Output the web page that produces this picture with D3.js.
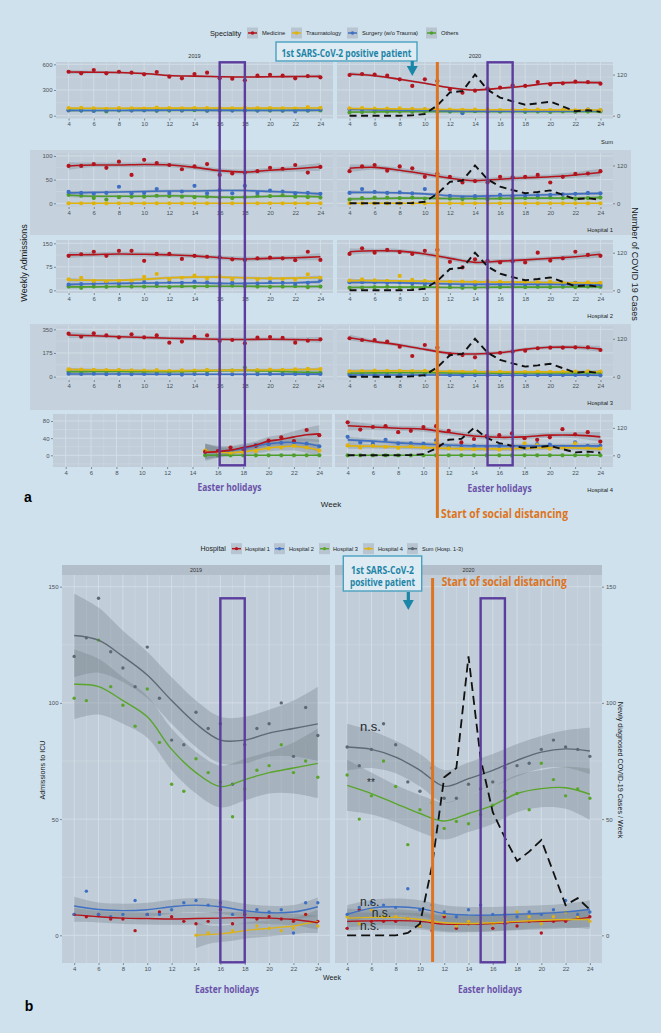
<!DOCTYPE html>
<html><head><meta charset="utf-8">
<script src="https://cdn.jsdelivr.net/npm/d3@7"></script>
<style>
body{margin:0;background:#cfe1ed;}
svg{display:block;font-family:"Liberation Sans",Arial,sans-serif;}
</style></head>
<body><svg id="c" width="661" height="1033"></svg>
<script>
// ---------------- DATA ----------------
const weeks = [4,5,6,7,8,9,10,11,12,13,14,15,16,17,18,19,20,21,22,23,24];
const fitWeeks = [4,6,8,10,12,14,16,18,20,22,24];
const fitWeeksH4_19 = [15,16,17,18,19,20,21,22,23,24];
const fitWeeksB_H4_19 = [14,15,16,17,18,19,20,21,22,23,24];
const xTicks = [4,6,8,10,12,14,16,18,20,22,24];
const covidCases = [0,0,0,0,0,1,5,30,68,72,120,76,53,42,32,36,41,27,13,16,11];
const specialities = ["Medicine","Traumatology","Surgery (w/o Trauma)","Others"];
const hospitalsB = ["Hospital 1","Hospital 2","Hospital 3","Hospital 4","Sum (Hosp. 1-3)"];
const rowNames = ["Sum","Hospital 1","Hospital 2","Hospital 3","Hospital 4"];
const years = ["2019","2020"];

// Panel a — Sum
const sum19Med = [513,495,533,495,513,502,483,510,455,436,487,502,436,432,413,467,478,467,436,463,448];
const sum19Tra = [90,92,85,80,88,85,82,95,88,85,90,88,92,85,95,88,90,85,82,100,92];
const sum19Sur = [62,60,55,58,65,60,62,60,65,62,70,58,65,60,62,60,65,62,50,62,70];
const sum19Oth = [65,62,60,50,62,65,68,58,60,62,65,60,62,65,60,62,60,58,62,60,62];
const sum19MedFit = [510,508,505,492,470,462,455,451,455,457,459];
const sum19TraFit = [88,87,87,88,88,89,89,89,89,90,90];
const sum19SurFit = [60,60,61,62,63,63,62,61,61,62,63];
const sum19OthFit = [62,61,61,62,62,62,62,62,62,62,61];
const sum20Med = [475,487,480,467,425,347,425,405,308,268,292,320,327,355,347,393,366,378,397,393,374];
const sum20Tra = [86,88,84,82,85,80,78,70,72,68,70,74,66,70,68,72,65,68,62,70,64];
const sum20Sur = [75,70,66,68,62,60,72,58,52,30,55,50,52,55,50,56,52,58,50,70,62];
const sum20Oth = [38,42,45,46,48,44,50,47,48,44,52,50,48,46,45,48,44,50,46,48,50];
const sum20MedFit = [487,467,425,378,327,300,320,347,378,389,386];
const sum20TraFit = [84,82,80,76,72,70,69,69,68,67,66];
const sum20SurFit = [72,68,64,60,56,53,52,52,53,55,57];
const sum20OthFit = [42,44,46,47,48,48,47,46,46,47,48];
const sumCiMed = [24,16,13,12,12,12,12,12,12,14,21];
const sumCiOth = [10,8,7,7,7,7,7,7,7,8,10];

// Panel a — Hospital 1
const h1_19Med = [79,79,83,75,88,60,92,85,81,72,78,83,60,63,65,68,75,73,81,65,77];
const h1_19Tra = [0,0,0,0,0,0,0,0,0,0,0,0,0,0,0,0,0,0,0,0,0];
const h1_19Sur = [24,22,20,22,35,21,22,30,22,25,37,21,28,21,37,22,27,25,21,22,20];
const h1_19Oth = [18,16,11,8,13,14,14,16,15,14,13,14,12,11,13,16,15,17,14,13,12];
const h1_19MedFit = [79,81,81,82,81,76,69,66,70,73,77];
const h1_19TraFit = [0,0,0,0,0,0,0,0,0,0,0];
const h1_19SurFit = [22,23,24,25,26,26,27,27,25,23,20];
const h1_19OthFit = [17,15,15,15,16,15,13,13,15,15,14];
const h1_20Med = [68,78,81,69,78,74,56,63,56,44,47,44,56,55,56,60,44,56,62,63,68];
const h1_20Tra = [0,0,0,0,0,0,0,0,0,0,0,0,0,0,0,0,0,0,0,0,0];
const h1_20Sur = [22,30,24,22,23,21,30,20,16,12,15,14,18,15,16,17,18,19,20,22,21];
const h1_20Oth = [8,11,12,12,11,12,10,11,10,9,11,8,11,10,11,12,12,11,10,11,12];
const h1_20MedFit = [74,76,70,62,53,48,51,54,56,60,65];
const h1_20TraFit = [0,0,0,0,0,0,0,0,0,0,0];
const h1_20SurFit = [23,23,22,20,16,15,16,17,18,20,21];
const h1_20OthFit = [9,10,11,11,10,10,10,11,11,11,12];
const h1CiMed = [8,5,5,5,5,5,5,5,5,6,8];
const h1CiOth = [4,3,3,3,3,3,3,3,3,3,4];

// Panel a — Hospital 2
const h2_19Med = [110,115,123,110,126,126,94,116,116,100,110,107,105,99,97,102,104,102,96,123,97];
const h2_19Tra = [35,40,30,28,30,30,43,52,35,40,47,38,45,35,38,35,38,36,34,51,40];
const h2_19Sur = [18,20,22,25,22,24,26,22,26,24,28,25,22,24,20,22,26,24,20,24,32];
const h2_19Oth = [12,8,12,11,13,12,12,14,10,13,11,13,14,15,13,12,11,12,13,10,12];
const h2_19MedFit = [113,114,116,115,113,110,104,100,102,104,107];
const h2_19TraFit = [33,32,32,35,40,42,42,40,38,39,41];
const h2_19SurFit = [19,21,22,23,24,24,22,22,23,24,27];
const h2_19OthFit = [11,11,12,12,12,13,13,13,12,12,12];
const h2_20Med = [116,134,120,129,122,116,126,129,91,73,99,94,89,92,89,120,95,102,123,113,110];
const h2_20Tra = [31,35,32,30,46,33,30,28,27,28,26,30,28,27,25,26,28,24,22,25,24];
const h2_20Sur = [26,26,25,24,25,22,21,22,20,14,18,18,19,20,19,20,22,20,24,22,17];
const h2_20Oth = [8,9,10,11,9,10,12,11,10,8,7,9,10,11,10,11,10,11,10,12,11];
const h2_20MedFit = [123,126,125,116,102,89,93,97,102,107,115];
const h2_20TraFit = [31,31,30,29,28,27,26,26,25,24,23];
const h2_20SurFit = [25,25,24,22,20,19,19,19,19,18,17];
const h2_20OthFit = [9,10,10,10,9,9,10,10,10,11,11];
const h2CiMed = [10,7,7,7,7,7,7,7,7,8,11];
const h2CiOth = [6,4,4,4,4,4,4,4,4,4,6];

// Panel a — Hospital 3
const h3_19Med = [318,295,320,305,291,313,291,305,251,259,295,305,264,271,247,288,293,286,251,266,276];
const h3_19Tra = [55,52,50,48,50,46,45,48,44,46,45,50,48,45,50,48,52,50,54,58,56];
const h3_19Sur = [22,20,22,18,20,18,20,22,18,16,20,18,20,18,16,18,20,18,20,18,20];
const h3_19Oth = [38,36,40,38,44,36,35,38,34,36,38,40,42,45,66,35,38,36,32,30,28];
const h3_19MedFit = [308,302,295,290,284,280,276,275,276,274,271];
const h3_19TraFit = [54,50,48,46,44,46,48,49,50,52,54];
const h3_19SurFit = [20,20,20,19,18,18,18,18,19,19,19];
const h3_19OthFit = [37,38,38,37,37,40,44,46,42,35,30];
const h3_20Med = [284,271,271,259,222,153,234,214,165,160,143,173,177,185,192,210,214,214,217,217,197];
const h3_20Tra = [40,42,45,44,43,42,44,42,38,36,40,38,35,36,34,38,36,35,38,40,37];
const h3_20Sur = [12,14,13,12,13,12,14,13,11,8,12,11,12,10,11,12,11,12,13,12,10];
const h3_20Oth = [25,28,30,28,32,30,28,30,26,24,28,26,25,28,27,26,28,27,25,28,30];
const h3_20MedFit = [288,259,234,202,173,168,177,202,217,217,205];
const h3_20TraFit = [41,43,43,42,39,37,36,36,36,37,37];
const h3_20SurFit = [13,13,13,13,12,11,11,11,12,12,11];
const h3_20OthFit = [26,28,29,29,27,26,26,27,27,27,28];
const h3CiMed = [22,14,13,13,13,13,13,13,13,15,22];
const h3CiOth = [12,9,8,8,8,8,8,8,8,9,12];

// Panel a — Hospital 4 (2019 only from week 15)
const h4_19Med = [null,null,null,null,null,null,null,null,null,null,null,8,10,18,15,22,34,42,33,59,47];
const h4_19Tra = [null,null,null,null,null,null,null,null,null,null,null,11,8,5,7,10,16,18,22,18,11];
const h4_19Sur = [null,null,null,null,null,null,null,null,null,null,null,8,7,10,15,24,26,29,30,27,21];
const h4_19Oth = [null,null,null,null,null,null,null,null,null,null,null,0,0,0,0,0,0,0,0,0,0];
const h4_19MedFit = [7,8.5,12,18,24,33,37,43,48,50];
const h4_19TraFit = [10,7,6,8,12,17,20,21,18,12];
const h4_19SurFit = [8,8,11,16,22,27,30,30,27,22];
const h4_19OthFit = [0,0,0,0,0,0,0,0,0,0];
const h4_19CiMed = [20,14,10,9,9,10,11,13,16,20];
const h4_19CiOth = [18,12,9,8,8,8,9,10,12,14];
const h4_19CiZero = [1,1,1,1,1,1,1,1,1,1];
const h4_20Med = [77,60,66,68,54,57,66,68,57,30,38,45,47,51,40,36,42,61,49,54,32];
const h4_20Tra = [23,18,22,20,17,21,19,28,16,15,14,14,13,14,28,24,15,18,28,18,16];
const h4_20Sur = [43,30,27,36,28,28,27,35,20,22,22,20,22,20,17,26,25,20,30,22,22];
const h4_20Oth = [0,0,0,0,0,0,0,0,0,0,0,0,0,0,0,0,0,0,0,0,0];
const h4_20MedFit = [69,66,63,61,53,45,42,43,47,47,43];
const h4_20TraFit = [22,21,20,18,16,15,15,16,18,17,15];
const h4_20SurFit = [36,33,29,26,24,22,22,22,22,22,22];
const h4_20OthFit = [0,0,0,0,0,0,0,0,0,0,0];
const h4CiMed = [11,7,6,6,6,6,6,6,6,7,11];
const h4CiOth = [7,5,5,5,5,5,5,5,5,5,7];
const zeroCi = [1,1,1,1,1,1,1,1,1,1,1];

// Panel b — ICU admissions
const b19H1 = [9,8,9,7,7,2,9,10,8,6,5,6,11,5,9,7,8,7,6,9,6];
const b19H2 = [9,19,9,8,9,15,9,9,11,14,15,13,14,9,10,11,10,11,1,14,14];
const b19H3 = [102,101,127,107,99,90,106,83,65,62,76,70,66,51,63,71,73,82,70,75,68];
const b19H4 = [null,null,null,null,null,null,null,null,null,null,0,1,1,2,2,4,3,2,3,9,4];
const b19Sum = [120,128,145,122,115,107,124,102,84,82,96,89,91,65,82,89,91,100,77,98,86];
const b19H1Fit = [8.8,8,7.4,7.2,7,7.2,7.4,7.6,7.4,6.8,5.4];
const b19H2Fit = [12.6,11.1,10.6,11,12.3,13,12.3,10.6,9.7,10,12.3];
const b19H3Fit = [108,107,101,94,80,70,64,67,70,72,74];
const b19H4Fit = [0,0.3,0.6,1.2,2,2.6,3,3.5,4,5,6];
const b19SumFit = [129,127,120,112,101,91,84,84,87,89,91];
const b19H1Ci = [3,2.5,2.5,2.5,2.5,2.5,2.5,2.5,2.5,2.5,3];
const b19H2Ci = [4,3,3,3,3,3,3,3,3,3,4];
const b19H3Ci = [15,12,10,9,9,9,9,9,9,11,15];
const b19H4Ci = [5.5,4,3.5,3.5,3.5,3.5,3.5,3.5,3.5,4,5];
const b19SumCi = [18,14,11,10,10,10,10,10,10,12,16];

const b20H1 = [3,11,6,6,6,7,4,2,8,3,5,5,3,5,4,6,1,6,6,8,8];
const b20H2 = [9,12,14,13,12,20,11,13,10,8,11,13,9,9,8,10,9,11,15,9,10];
const b20H3 = [69,50,60,75,64,39,54,57,46,49,48,52,56,62,61,54,74,67,60,63,59];
const b20H4 = [8,5,11,8,8,7,4,6,9,4,6,6,5,7,10,8,5,8,10,8,6];
const b20Sum = [81,73,80,91,82,66,62,72,59,59,65,63,66,72,73,74,80,84,81,80,77];
const b20H1Fit = [6,6.2,6.3,6,4.8,4.8,5.1,5.7,6,6.5,7.7];
const b20H2Fit = [9,11.7,12.3,11.6,9.4,8.7,8.7,9.1,9.4,10.1,11.1];
const b20H3Fit = [64.5,61,56.7,52.4,49.2,52.4,55.9,61,63.1,63.5,60.7];
const b20H4Fit = [7.4,7.7,7.7,6.8,5.4,5.1,5.4,6,6.5,6.8,6.8];
const b20SumFit = [81,80,76.7,71,64.1,67.4,71,75.3,78.8,80.2,79.3];
const b20SmallCi = [4,3.5,3.5,3.5,3.5,3.5,3.5,3.5,3.5,3.5,4];
const b20H3Ci = [11,9,8,8,8,8,8,8,8,9,11];
const b20SumCi = [10,8,7,7,7,7,7,7,7,8,10];

// ---------------- STYLE ----------------
const C = {panel:"#c1cdd8", grid:"#d3dfe9", band:"#6f7b86", tick:"#4a5259", strip:"#b2bfca",
  rowBand:"#c5d2dd", key:"#b8c5d0", purple:"#5b3d9e", orange:"#dd7420", teal:"#1d84a6"};
const colA = ["#b3141d","#e0b30c","#3e6fc2","#4e9f2c"];
const colB = ["#b3141d","#3e70c4","#5aa52c","#dcb21a","#5d6a75"];
const annFont = "'Open Sans','Lato',sans-serif";

const svg = d3.select("#c");
let clipN = 0;

function styleAxis(sel, fs){
  sel.select(".domain").remove();
  sel.selectAll("line").attr("stroke", C.tick).attr("stroke-width", 0.6);
  sel.selectAll("text").attr("font-size", fs).attr("fill", C.tick)
     .attr("font-family", "'Liberation Sans',Arial,sans-serif");
  sel.attr("font-family", null);
}

function drawPanel(o){
  const g = svg.append("g");
  const x = d3.scaleLinear().domain([3,25]).range([o.x0,o.x1]);
  const y = d3.scaleLinear().domain(o.yDom).range(o.yRng);
  const id = "clip"+(clipN++);
  g.append("clipPath").attr("id",id).append("rect")
    .attr("x",o.x0).attr("y",o.y0).attr("width",o.x1-o.x0).attr("height",o.y1-o.y0);
  g.append("rect").attr("x",o.x0).attr("y",o.y0).attr("width",o.x1-o.x0).attr("height",o.y1-o.y0).attr("fill",C.panel);
  const grid = g.append("g").attr("clip-path",`url(#${id})`);
  const minorW = weeks.filter(w=>w%2===1);
  grid.selectAll(".vm").data(minorW).join("line").attr("x1",d=>x(d)).attr("x2",d=>x(d)).attr("y1",o.y0).attr("y2",o.y1).attr("stroke",C.grid).attr("stroke-width",0.45);
  grid.selectAll(".hm").data(o.minor).join("line").attr("y1",d=>y(d)).attr("y2",d=>y(d)).attr("x1",o.x0).attr("x2",o.x1).attr("stroke",C.grid).attr("stroke-width",0.45);
  grid.selectAll(".vM").data(xTicks).join("line").attr("x1",d=>x(d)).attr("x2",d=>x(d)).attr("y1",o.y0).attr("y2",o.y1).attr("stroke",C.grid).attr("stroke-width",0.9);
  grid.selectAll(".hM").data(o.ticks).join("line").attr("y1",d=>y(d)).attr("y2",d=>y(d)).attr("x1",o.x0).attr("x2",o.x1).attr("stroke",C.grid).attr("stroke-width",0.9);

  const body = g.append("g").attr("clip-path",`url(#${id})`);
  const area = d3.area().x(d=>x(d.w)).y0(d=>y(d.v-d.c)).y1(d=>y(d.v+d.c)).curve(d3.curveCatmullRom);
  const line = d3.line().x(d=>x(d.w)).y(d=>y(d.v)).curve(d3.curveCatmullRom);
  const fitData = s => s.fw.map((w,i)=>({w, v:s.fit[i], c:s.ci[i]}));
  o.series.forEach(s=>{
    body.append("path").datum(fitData(s)).attr("d",area).attr("fill",C.band).attr("opacity",0.33);
  });
  o.series.forEach(s=>{
    body.append("g").selectAll("circle").data(weeks.map((w,i)=>({w,v:s.pts[i]})).filter(d=>d.v!==null))
      .join("circle").attr("cx",d=>x(d.w)).attr("cy",d=>y(d.v)).attr("r",o.r).attr("fill",s.color);
  });
  o.series.forEach(s=>{
    body.append("path").datum(fitData(s)).attr("d",line).attr("fill","none").attr("stroke",s.color).attr("stroke-width",o.lw);
  });
  if(o.covid){
    const cl = d3.line().x((d,i)=>x(weeks[i])).y(d=>y(d*o.cf));
    body.append("path").datum(covidCases).attr("d",cl).attr("fill","none").attr("stroke","#111")
      .attr("stroke-width",o.dashW).attr("stroke-dasharray",o.dash);
  }
  const ax = g.append("g").attr("transform",`translate(0,${o.y1})`)
    .call(d3.axisBottom(x).tickValues(xTicks).tickSize(2).tickPadding(1.5));
  styleAxis(ax, o.fs);
  if(o.left){
    const ay = g.append("g").attr("transform",`translate(${o.x0},0)`)
      .call(d3.axisLeft(y).tickValues(o.ticks).tickSize(2).tickPadding(1.5).tickFormat(d3.format("d")));
    styleAxis(ay, o.fs);
  }
  if(o.right){
    const yr = d3.scaleLinear().domain([0,1]).range([y(0), y(o.cf)]);
    const ar = g.append("g").attr("transform",`translate(${o.x1},0)`)
      .call(d3.axisRight(yr).tickValues(o.rightTicks).tickSize(2).tickPadding(2).tickFormat(d3.format("d")));
    styleAxis(ar, o.fs);
  }
  return {x,y};
}

// ---------------- PANEL a ----------------
const rowsA = [
  {name:rowNames[0], yDom:[0,600], yRng:[115.7,64.3], ticks:[0,300,600], minor:[150,450], cf:4, y0:62, y1:118.5, xl:[56,333], xr:[337,613],
   s19:[[sum19Med,sum19MedFit,sumCiMed],[sum19Tra,sum19TraFit,sumCiOth],[sum19Sur,sum19SurFit,sumCiOth],[sum19Oth,sum19OthFit,sumCiOth]],
   s20:[[sum20Med,sum20MedFit,sumCiMed],[sum20Tra,sum20TraFit,sumCiOth],[sum20Sur,sum20SurFit,sumCiOth],[sum20Oth,sum20OthFit,sumCiOth]]},
  {name:rowNames[1], yDom:[0,100], yRng:[203.3,156], ticks:[0,50,100], minor:[25,75], cf:2/3, y0:153, y1:207, xl:[56,333], xr:[337,613],
   s19:[[h1_19Med,h1_19MedFit,h1CiMed],[h1_19Tra,h1_19TraFit,zeroCi],[h1_19Sur,h1_19SurFit,h1CiOth],[h1_19Oth,h1_19OthFit,h1CiOth]],
   s20:[[h1_20Med,h1_20MedFit,h1CiMed],[h1_20Tra,h1_20TraFit,zeroCi],[h1_20Sur,h1_20SurFit,h1CiOth],[h1_20Oth,h1_20OthFit,h1CiOth]]},
  {name:rowNames[2], yDom:[0,150], yRng:[290.3,243.3], ticks:[0,75,150], minor:[37.5,112.5], cf:1, y0:240, y1:293, xl:[56,333], xr:[337,613],
   s19:[[h2_19Med,h2_19MedFit,h2CiMed],[h2_19Tra,h2_19TraFit,h2CiOth],[h2_19Sur,h2_19SurFit,h2CiOth],[h2_19Oth,h2_19OthFit,h2CiOth]],
   s20:[[h2_20Med,h2_20MedFit,h2CiMed],[h2_20Tra,h2_20TraFit,h2CiOth],[h2_20Sur,h2_20SurFit,h2CiOth],[h2_20Oth,h2_20OthFit,h2CiOth]]},
  {name:rowNames[3], yDom:[0,350], yRng:[376.7,329.3], ticks:[0,175,350], minor:[87.5,262.5], cf:7/3, y0:326, y1:380, xl:[56,333], xr:[337,613],
   s19:[[h3_19Med,h3_19MedFit,h3CiMed],[h3_19Tra,h3_19TraFit,h3CiOth],[h3_19Sur,h3_19SurFit,h3CiOth],[h3_19Oth,h3_19OthFit,h3CiOth]],
   s20:[[h3_20Med,h3_20MedFit,h3CiMed],[h3_20Tra,h3_20TraFit,h3CiOth],[h3_20Sur,h3_20SurFit,h3CiOth],[h3_20Oth,h3_20OthFit,h3CiOth]]},
  {name:rowNames[4], yDom:[0,80], yRng:[455.3,421], ticks:[0,40,80], minor:[-20,20,60], cf:0.533, y0:414, y1:467, xl:[53,332], xr:[335,613], fw19:fitWeeksH4_19,
   s19:[[h4_19Med,h4_19MedFit,h4_19CiMed],[h4_19Tra,h4_19TraFit,h4_19CiOth],[h4_19Sur,h4_19SurFit,h4_19CiOth],[h4_19Oth,h4_19OthFit,h4_19CiZero]],
   s20:[[h4_20Med,h4_20MedFit,h4CiMed],[h4_20Tra,h4_20TraFit,h4CiOth],[h4_20Sur,h4_20SurFit,h4CiOth],[h4_20Oth,h4_20OthFit,zeroCi]]}
];

// row background bands (Hospital 1, Hospital 3)
[[150,235],[324,410]].forEach(b=>svg.append("rect").attr("x",30).attr("y",b[0]).attr("width",601).attr("height",b[1]-b[0]).attr("fill",C.rowBand));

let scalesA = [];
rowsA.forEach((r,ri)=>{
  const mk = (arr, fw) => arr.map((s,i)=>({pts:s[0], fit:s[1], ci:s[2], fw:fw, color:colA[i]}));
  const order = a => [a[3],a[2],a[1],a[0]];
  const L = drawPanel({x0:r.xl[0],x1:r.xl[1],y0:r.y0,y1:r.y1,yDom:r.yDom,yRng:r.yRng,ticks:r.ticks,minor:r.minor,
     series:order(mk(r.s19, r.fw19||fitWeeks)), left:true, r:2.1, lw:1.6, fs:6});
  const R = drawPanel({x0:r.xr[0],x1:r.xr[1],y0:r.y0,y1:r.y1,yDom:r.yDom,yRng:r.yRng,ticks:r.ticks,minor:r.minor,
     series:order(mk(r.s20, fitWeeks)), left:false, right:true, rightTicks:[0,120], cf:r.cf, covid:true,
     dash:"7,4.5", dashW:1.9, r:2.1, lw:1.6, fs:6});
  scalesA.push({L,R});
  svg.append("text").attr("x",613).attr("y",r.y1+25).attr("text-anchor","end").attr("font-size",5.8).attr("fill","#222").text(r.name);
});
svg.append("text").attr("x",194.5).attr("y",58).attr("text-anchor","middle").attr("font-size",5.6).attr("fill","#333").text(years[0]);
svg.append("text").attr("x",475).attr("y",58).attr("text-anchor","middle").attr("font-size",5.6).attr("fill","#333").text(years[1]);

// axis titles panel a
svg.append("text").attr("transform","translate(27,263) rotate(-90)").attr("text-anchor","middle").attr("font-size",9).attr("fill","#1a1a1a").text("Weekly Admissions");
svg.append("text").attr("transform","translate(632,264) rotate(90)").attr("text-anchor","middle").attr("font-size",9).attr("fill","#1a1a1a").text("Number of COVID 19 Cases");
svg.append("text").attr("x",331).attr("y",507).attr("text-anchor","middle").attr("font-size",8).attr("fill","#1a1a1a").text("Week");

// legend panel a
(function(){
  const g = svg.append("g");
  g.append("text").attr("x",210).attr("y",35.5).attr("font-size",7.3).attr("fill","#1a1a1a").text("Speciality");
  const kx = [247,291,347,426], tx = [262,306,362,441];
  specialities.forEach((s,i)=>{
    g.append("rect").attr("x",kx[i]).attr("y",27.5).attr("width",11).attr("height",11).attr("fill",C.key);
    g.append("line").attr("x1",kx[i]+1).attr("x2",kx[i]+10).attr("y1",33).attr("y2",33).attr("stroke",colA[i]).attr("stroke-width",1.5);
    g.append("circle").attr("cx",kx[i]+5.5).attr("cy",33).attr("r",1.8).attr("fill",colA[i]);
    g.append("text").attr("x",tx[i]).attr("y",35).attr("font-size",5.8).attr("fill","#1a1a1a").text(s);
  });
})();

// annotations panel a
(function(){
  const S = scalesA[0];
  const rl = [S.L.x(16), S.L.x(18)], rr = [S.R.x(15), S.R.x(17)];
  svg.append("rect").attr("x",rl[0]).attr("y",62.3).attr("width",rl[1]-rl[0]).attr("height",403).attr("fill","none").attr("stroke",C.purple).attr("stroke-width",2.4);
  svg.append("rect").attr("x",rr[0]).attr("y",62.3).attr("width",rr[1]-rr[0]).attr("height",403).attr("fill","none").attr("stroke",C.purple).attr("stroke-width",2.4);
  const xo = S.R.x(11);
  svg.append("line").attr("x1",xo).attr("x2",xo).attr("y1",62).attr("y2",518).attr("stroke",C.orange).attr("stroke-width",3);
  svg.append("text").attr("x",441).attr("y",518).attr("font-family",annFont).attr("font-weight","bold").attr("font-size",11.5)
    .attr("fill",C.orange).attr("textLength",127).attr("lengthAdjust","spacingAndGlyphs").text("Start of social distancing");
  [[229.5,491],[499.6,492]].forEach(p=>svg.append("text").attr("x",p[0]).attr("y",p[1]).attr("text-anchor","middle")
    .attr("font-family",annFont).attr("font-weight","bold").attr("font-size",10.5).attr("fill","#6a52a8")
    .attr("textLength",64).attr("lengthAdjust","spacingAndGlyphs").text("Easter holidays"));
  svg.append("rect").attr("x",276).attr("y",42).attr("width",141).attr("height",19).attr("fill","#deebf3").attr("stroke","#4aa0bf").attr("stroke-width",1.4);
  svg.append("text").attr("x",346.5).attr("y",56.5).attr("text-anchor","middle").attr("font-family",annFont).attr("font-weight","bold")
    .attr("font-size",11).attr("fill",C.teal).attr("textLength",130).attr("lengthAdjust","spacingAndGlyphs").text("1st SARS-CoV-2 positive patient");
  const xa = S.R.x(9);
  svg.append("rect").attr("x",xa-1.6).attr("y",61).attr("width",3.2).attr("height",6).attr("fill","#1a86a8");
  svg.append("path").attr("d",`M${xa-5.5},66 L${xa+5.5},66 L${xa},76 Z`).attr("fill","#1a86a8");
  svg.append("text").attr("x",28).attr("y",502).attr("text-anchor","middle").attr("font-weight","bold").attr("font-size",14).attr("fill","#000").text("a");
})();

// ---------------- PANEL b ----------------
(function(){
  const yDom=[0,150], yRng=[935.3,586.7], ticks=[0,50,100,150], minor=[25,75,125];
  const ser = (pts,fit,ci,fw,c)=>({pts,fit,ci,fw,color:c});
  const s19 = [ser(b19H4,b19H4Fit,b19H4Ci,fitWeeksB_H4_19,colB[3]), ser(b19H1,b19H1Fit,b19H1Ci,fitWeeks,colB[0]),
    ser(b19H2,b19H2Fit,b19H2Ci,fitWeeks,colB[1]), ser(b19H3,b19H3Fit,b19H3Ci,fitWeeks,colB[2]), ser(b19Sum,b19SumFit,b19SumCi,fitWeeks,colB[4])];
  const s20 = [ser(b20H1,b20H1Fit,b20SmallCi,fitWeeks,colB[0]), ser(b20H4,b20H4Fit,b20SmallCi,fitWeeks,colB[3]),
    ser(b20H2,b20H2Fit,b20SmallCi,fitWeeks,colB[1]), ser(b20H3,b20H3Fit,b20H3Ci,fitWeeks,colB[2]), ser(b20Sum,b20SumFit,b20SumCi,fitWeeks,colB[4])];
  [[62,330,years[0]],[335,602,years[1]]].forEach(s=>{
    svg.append("rect").attr("x",s[0]).attr("y",565).attr("width",s[1]-s[0]).attr("height",10).attr("fill",C.strip);
    svg.append("text").attr("x",(s[0]+s[1])/2).attr("y",572.3).attr("text-anchor","middle").attr("font-size",5.4).attr("fill","#333").text(s[2]);
  });
  const L = drawPanel({x0:62,x1:330,y0:575,y1:963,yDom,yRng,ticks,minor,series:s19,left:true,r:1.7,lw:1.4,fs:6});
  const R = drawPanel({x0:335,x1:602,y0:575,y1:963,yDom,yRng,ticks,minor,series:s20,left:false,right:true,rightTicks:[0,50,100,150],cf:1,
    covid:true,dash:"9,5",dashW:1.8,r:1.7,lw:1.4,fs:6});
  const g = svg.append("g");
  g.append("text").attr("x",200.5).attr("y",551.3).attr("font-size",7).attr("fill","#1a1a1a").text("Hospital");
  const kx=[231,274,319,363,407], tx=[245,289,333,378,422];
  hospitalsB.forEach((h,i)=>{
    g.append("rect").attr("x",kx[i]).attr("y",543.2).attr("width",11).attr("height",11).attr("fill",C.key);
    g.append("line").attr("x1",kx[i]+1).attr("x2",kx[i]+10).attr("y1",548.7).attr("y2",548.7).attr("stroke",colB[i]).attr("stroke-width",1.5);
    g.append("circle").attr("cx",kx[i]+5.5).attr("cy",548.7).attr("r",1.6).attr("fill",colB[i]);
    g.append("text").attr("x",tx[i]).attr("y",550.8).attr("font-size",5.6).attr("fill","#1a1a1a").text(h);
  });
  svg.append("text").attr("transform","translate(45,770) rotate(-90)").attr("text-anchor","middle").attr("font-size",7.2).attr("fill","#1a1a1a").text("Admissions to ICU");
  svg.append("text").attr("transform","translate(618,770) rotate(90)").attr("text-anchor","middle").attr("font-size",7.2).attr("fill","#1a1a1a").text("Newly diagnosed COVID-19 Cases / Week");
  svg.append("text").attr("x",332).attr("y",979.5).attr("text-anchor","middle").attr("font-size",7).attr("fill","#1a1a1a").text("Week");
  const rl=[L.x(16),L.x(18)], rr=[R.x(15),R.x(17)];
  svg.append("rect").attr("x",rl[0]).attr("y",598.3).attr("width",rl[1]-rl[0]).attr("height",364).attr("fill","none").attr("stroke",C.purple).attr("stroke-width",2.4);
  svg.append("rect").attr("x",rr[0]).attr("y",598.3).attr("width",rr[1]-rr[0]).attr("height",364).attr("fill","none").attr("stroke",C.purple).attr("stroke-width",2.4);
  [[227,992.5],[490,992.5]].forEach(p=>svg.append("text").attr("x",p[0]).attr("y",p[1]).attr("text-anchor","middle")
    .attr("font-family",annFont).attr("font-weight","bold").attr("font-size",10.5).attr("fill","#6a52a8")
    .attr("textLength",64).attr("lengthAdjust","spacingAndGlyphs").text("Easter holidays"));
  const xo = R.x(11)+0.5;
  svg.append("line").attr("x1",xo).attr("x2",xo).attr("y1",578).attr("y2",962).attr("stroke",C.orange).attr("stroke-width",3);
  svg.append("text").attr("x",441.7).attr("y",585.8).attr("font-family",annFont).attr("font-weight","bold").attr("font-size",11.5)
    .attr("fill",C.orange).attr("textLength",125).attr("lengthAdjust","spacingAndGlyphs").text("Start of social distancing");
  svg.append("rect").attr("x",343.3).attr("y",556).attr("width",78.4).attr("height",35).attr("fill","#deebf3").attr("stroke","#4aa0bf").attr("stroke-width",1.4);
  svg.append("text").attr("x",382.5).attr("y",573.5).attr("text-anchor","middle").attr("font-family",annFont).attr("font-weight","bold")
    .attr("font-size",10.5).attr("fill",C.teal).attr("textLength",63).attr("lengthAdjust","spacingAndGlyphs").text("1st SARS-CoV-2");
  svg.append("text").attr("x",382.5).attr("y",585.5).attr("text-anchor","middle").attr("font-family",annFont).attr("font-weight","bold")
    .attr("font-size",10.5).attr("fill",C.teal).attr("textLength",65).attr("lengthAdjust","spacingAndGlyphs").text("positive patient");
  const xa = R.x(9)+0.5;
  svg.append("rect").attr("x",xa-1.6).attr("y",592).attr("width",3.2).attr("height",9).attr("fill","#1a86a8");
  svg.append("path").attr("d",`M${xa-5.5},600 L${xa+5.5},600 L${xa},610 Z`).attr("fill","#1a86a8");
  const ns = (x,y,t,fs)=>svg.append("text").attr("x",x).attr("y",y).attr("font-size",fs).attr("fill","#23282c").text(t);
  ns(360,731,"n.s.",13); ns(367,786,"**",10); ns(360,905.5,"n.s.",12); ns(371.7,917,"n.s.",12); ns(360,929.5,"n.s.",12);
  svg.append("text").attr("x",29).attr("y",1011).attr("text-anchor","middle").attr("font-weight","bold").attr("font-size",14).attr("fill","#000").text("b");
})();
</script></body></html>
